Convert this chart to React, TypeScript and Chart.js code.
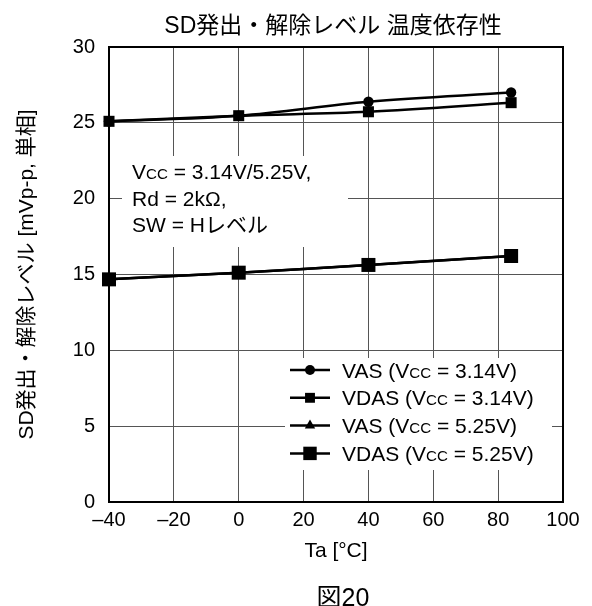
import React, { useEffect, useRef } from 'react';
import { Chart, registerables } from 'chart.js';

Chart.register(...registerables);

// Ambient temperature [°C] of each measurement
const temps = [-40, 0, 40, 84];

// Detection / release levels [mVp-p]
const vas314 = [25.1, 25.47, 26.39, 27.0];
const vdas314 = [25.1, 25.47, 25.73, 26.33];
const vas525 = [14.68, 15.12, 15.63, 16.22];
const vdas525 = [14.68, 15.12, 15.63, 16.22];

// Text ({..} marks small-capital subscripts such as the CC in Vcc)
const seriesNames = [
  'VAS (V{CC} = 3.14V)',
  'VDAS (V{CC} = 3.14V)',
  'VAS (V{CC} = 5.25V)',
  'VDAS (V{CC} = 5.25V)',
];
const conditionLines = ['V{CC} = 3.14V/5.25V,', 'Rd = 2kΩ,', 'SW = Hレベル'];
const titleText = 'SD発出・解除レベル 温度依存性';
const xTitle = 'Ta [°C]';
const yTitle = 'SD発出・解除レベル [mVp-p, 単相]';
const figureLabel = '図20';

// Axis ranges and tick steps
const xRange = [-40, 100];
const xStep = 20;
const yRange = [0, 30];
const yStep = 5;

const WIDTH = 592;
const HEIGHT = 606;
const FONT = "'Liberation Sans', Arial, 'Noto Sans CJK JP', sans-serif";

type Part = { t: string; s: number; w?: number };

function drawRich(ctx: CanvasRenderingContext2D, text: string, x: number, y: number, size: number, align: 'left' | 'center' = 'left') {
  const parts: Part[] = text
    .split(/(\{[^}]*\})/)
    .filter(Boolean)
    .map((p) => (p.startsWith('{') ? { t: p.slice(1, -1), s: size * 0.72 } : { t: p, s: size }));
  let total = 0;
  for (const p of parts) {
    ctx.font = `${p.s}px ${FONT}`;
    p.w = ctx.measureText(p.t).width;
    total += p.w;
  }
  let cx = align === 'center' ? x - total / 2 : x;
  ctx.textAlign = 'left';
  ctx.textBaseline = 'alphabetic';
  for (const p of parts) {
    ctx.font = `${p.s}px ${FONT}`;
    ctx.fillText(p.t, cx, y);
    cx += p.w as number;
  }
}

function drawMarker(ctx: CanvasRenderingContext2D, style: string, x: number, y: number, r: number) {
  ctx.beginPath();
  if (style === 'circle') {
    ctx.arc(x, y, r, 0, Math.PI * 2);
  } else if (style === 'rect') {
    const h = r * Math.SQRT1_2;
    ctx.rect(x - h, y - h, 2 * h, 2 * h);
  } else if (style === 'triangle') {
    let a = 0;
    ctx.moveTo(x + Math.sin(a) * r, y - Math.cos(a) * r);
    a += (2 * Math.PI) / 3;
    ctx.lineTo(x + Math.sin(a) * r, y - Math.cos(a) * r);
    a += (2 * Math.PI) / 3;
    ctx.lineTo(x + Math.sin(a) * r, y - Math.cos(a) * r);
    ctx.closePath();
  }
  ctx.fill();
}

const legendMarkers = [
  { style: 'circle', r: 5 },
  { style: 'rect', r: 7 },
  { style: 'triangle', r: 6 },
  { style: 'rect', r: 9.5 },
];

const decorPlugin = {
  id: 'decor',
  beforeDatasetsDraw(chart: any) {
    const { ctx, chartArea: a } = chart;
    ctx.save();
    // white panels behind the condition note and the legend
    ctx.fillStyle = '#ffffff';
    ctx.fillRect(a.left + 13, a.top + 109, 226, 91);
    ctx.fillRect(a.left + 176, a.top + 311, 267, 112);
    // plot frame
    ctx.strokeStyle = '#000000';
    ctx.lineWidth = 2;
    ctx.strokeRect(a.left, a.top, a.right - a.left, a.bottom - a.top);
    ctx.restore();
  },
  afterDraw(chart: any) {
    const { ctx, chartArea: a } = chart;
    ctx.save();
    ctx.fillStyle = '#000000';
    ctx.strokeStyle = '#000000';

    // chart title
    ctx.font = `23px ${FONT}`;
    ctx.textAlign = 'center';
    ctx.textBaseline = 'middle';
    ctx.fillText(titleText, (a.left + a.right) / 2 - 3, 27);

    // figure number
    ctx.font = `25px ${FONT}`;
    ctx.fillText(figureLabel, (a.left + a.right) / 2 + 7, 599);

    // measurement conditions
    conditionLines.forEach((line, i) => {
      drawRich(ctx, line, a.left + 23, a.top + 132 + i * 26.7, 21);
    });

    // legend
    seriesNames.forEach((name, i) => {
      const y = a.top + 323 + i * 27.8;
      ctx.lineWidth = 2.5;
      ctx.beginPath();
      ctx.moveTo(a.left + 181, y);
      ctx.lineTo(a.left + 221, y);
      ctx.stroke();
      drawMarker(ctx, legendMarkers[i].style, a.left + 201, y, legendMarkers[i].r);
      drawRich(ctx, name, a.left + 233, y + 7.5, 21);
    });
    ctx.restore();
  },
};

const fmt = (v: number) => (v < 0 ? '–' + Math.abs(v) : String(v));

export default function App() {
  const canvasRef = useRef<HTMLCanvasElement | null>(null);

  useEffect(() => {
    const canvas = canvasRef.current;
    if (!canvas) return;
    // the figure fills the whole page
    const prevMargin = document.body.style.margin;
    document.body.style.margin = '0';

    const pts = (vals: number[]) => temps.map((t, i) => ({ x: t, y: vals[i] }));
    const common = {
      borderColor: '#000000',
      backgroundColor: '#000000',
      pointBackgroundColor: '#000000',
      pointBorderColor: '#000000',
      pointBorderWidth: 0,
      borderWidth: 2.5,
      tension: 0.35,
      clip: false as const,
    };
    const chart = new Chart(canvas, {
      type: 'line',
      data: {
        datasets: [
          { ...common, label: seriesNames[0], data: pts(vas314), pointStyle: 'circle', pointRadius: 5.2, order: 3 },
          { ...common, label: seriesNames[1], data: pts(vdas314), pointStyle: 'rect', pointRadius: 7.8, order: 2 },
          { ...common, label: seriesNames[2], data: pts(vas525), pointStyle: 'triangle', pointRadius: 6, order: 1 },
          { ...common, label: seriesNames[3], data: pts(vdas525), pointStyle: 'rect', pointRadius: 9.9, order: 0 },
        ],
      },
      options: {
        responsive: false,
        animation: false,
        events: [],
        layout: { padding: { top: 47, right: 29, left: 0, bottom: 0 } },
        plugins: {
          legend: { display: false },
          title: { display: false },
          tooltip: { enabled: false },
        },
        scales: {
          x: {
            type: 'linear',
            min: xRange[0],
            max: xRange[1],
            afterFit: (s: any) => {
              s.height = 104;
            },
            ticks: {
              stepSize: xStep,
              padding: 6,
              color: '#000000',
              font: { size: 20, family: FONT },
              callback: (v: any) => fmt(Number(v)),
            },
            grid: { color: '#555555', lineWidth: 1, drawTicks: false },
            border: { display: false },
            title: {
              display: true,
              text: xTitle,
              color: '#000000',
              font: { size: 21, family: FONT },
              padding: { top: 0, bottom: 42 },
            },
          },
          y: {
            type: 'linear',
            min: yRange[0],
            max: yRange[1],
            afterFit: (s: any) => {
              s.width = 109;
            },
            ticks: {
              stepSize: yStep,
              padding: 14,
              color: '#000000',
              font: { size: 20, family: FONT },
              callback: (v: any) => fmt(Number(v)),
            },
            grid: { color: '#555555', lineWidth: 1, drawTicks: false },
            border: { display: false },
            title: {
              display: true,
              text: yTitle,
              color: '#000000',
              font: { size: 21, family: FONT },
              padding: { top: 15, bottom: 0 },
            },
          },
        },
      },
      plugins: [decorPlugin],
    });
    return () => {
      chart.destroy();
      document.body.style.margin = prevMargin;
    };
  }, []);

  return (
    <div style={{ width: WIDTH, height: HEIGHT }}>
      <canvas ref={canvasRef} width={WIDTH} height={HEIGHT} style={{ display: 'block' }} />
    </div>
  );
}
